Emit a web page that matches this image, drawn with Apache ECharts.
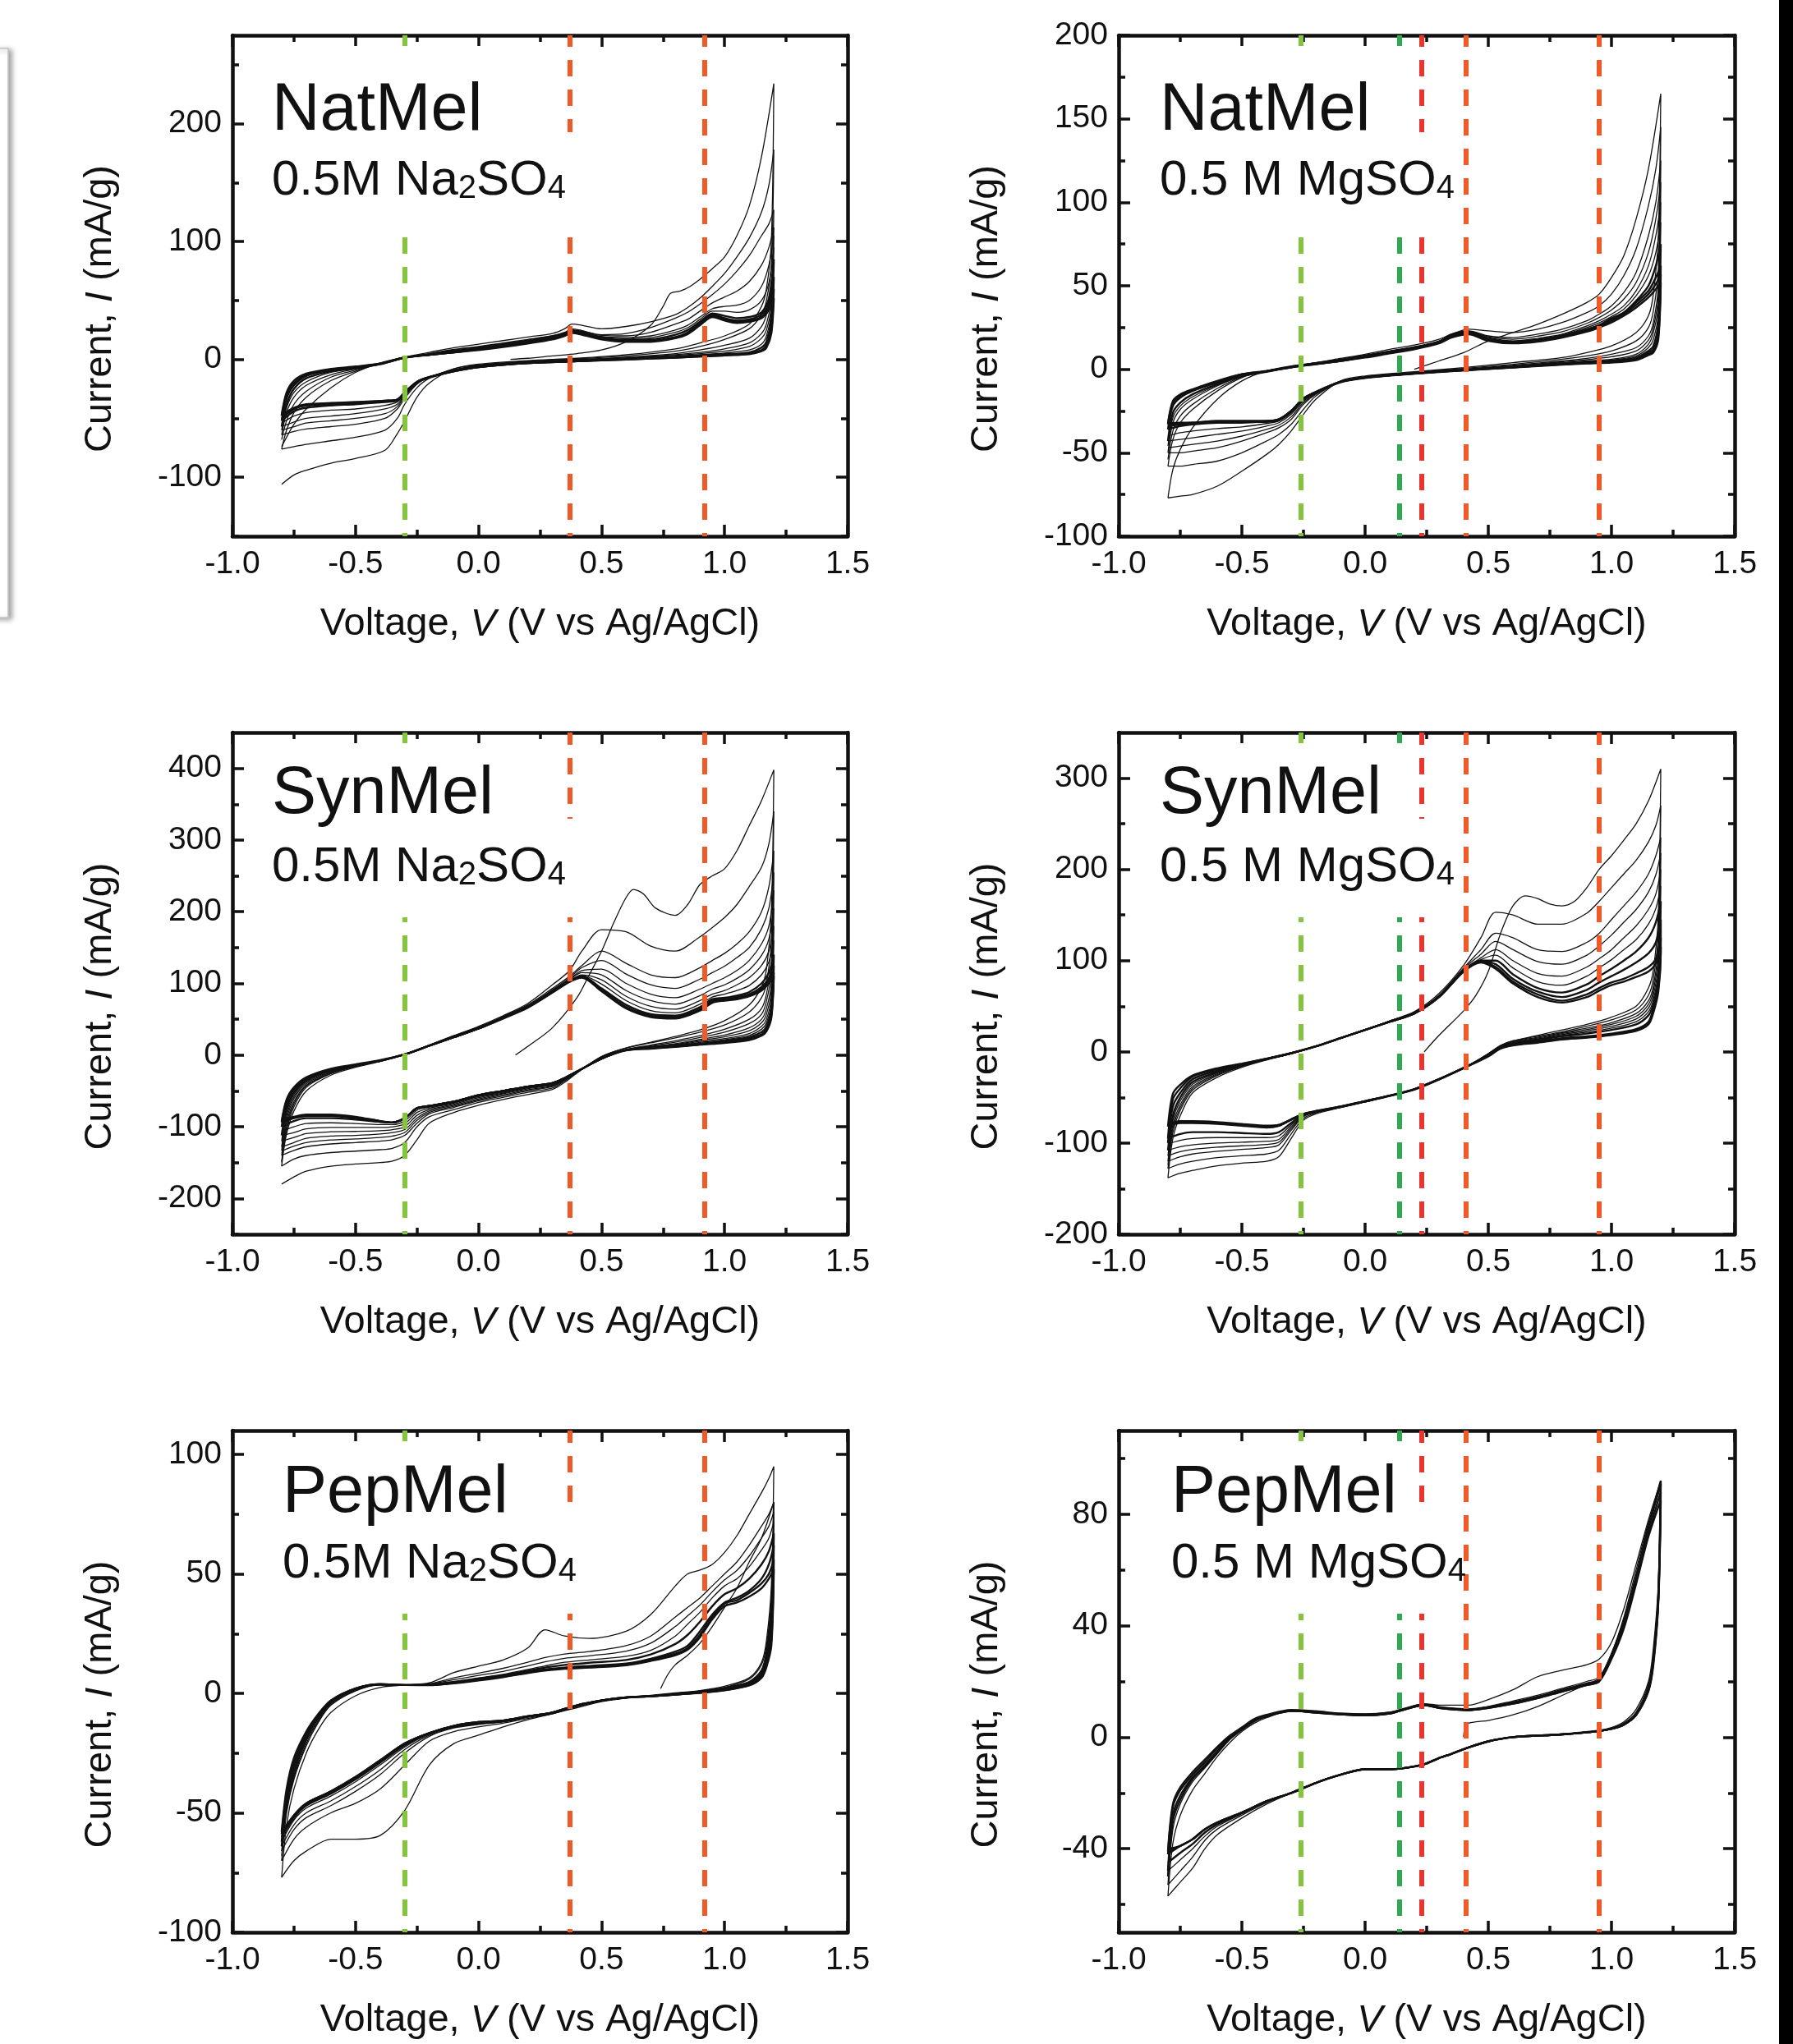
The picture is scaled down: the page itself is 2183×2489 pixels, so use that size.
<!DOCTYPE html>
<html><head><meta charset="utf-8">
<script src="https://cdn.jsdelivr.net/npm/echarts@6/dist/echarts.min.js"></script>
<style>html,body{margin:0;padding:0;background:#fff}#c{width:2183px;height:2489px}</style>
</head><body><div id="c"></div>
<script>
// ---------- shared axis values ----------
const xMajor = [-1, -0.5, 0, 0.5, 1, 1.5];
const xMinor = [-0.75, -0.25, 0.25, 0.75, 1.25];

// ---------- Panel 1 : NatMel, 0.5M Na2SO4 ----------
const natNa_yRange = [-150, 275];
const natNa_yMajor = [-100, 0, 100, 200];
const natNa_yMinor = [-150, -50, 50, 150, 250];
const natNa_refV = [-0.30, 0.37, 0.915];
const natNa_initV = [0.13, 0.2, 0.3, 0.4, 0.5, 0.6, 0.7, 0.75, 0.78, 0.82, 0.86, 0.9, 0.95, 1.0, 1.05, 1.1, 1.15, 1.2];
const natNa_initI = [0, 1, 3, 5, 8, 15, 29, 45, 56, 58, 62, 68, 77, 87, 105, 130, 172, 234];
const natNa_anV = [-0.8, -0.78, -0.75, -0.7, -0.6, -0.5, -0.4, -0.3, -0.2, -0.1, 0, 0.1, 0.2, 0.3, 0.35, 0.38, 0.42, 0.5, 0.6, 0.7, 0.8, 0.85, 0.9, 0.95, 1.0, 1.05, 1.1, 1.15, 1.18, 1.2];
const natNa_caV = [1.2, 1.19, 1.17, 1.15, 1.1, 1.0, 0.9, 0.8, 0.6, 0.4, 0.2, 0, -0.1, -0.2, -0.25, -0.3, -0.33, -0.38, -0.5, -0.6, -0.7, -0.75, -0.8];
const natNa_an = [
  [-74, -66, -55, -42, -24, -11, -3, 2, 6, 10, 13, 16, 19, 22, 26, 30, 29, 26, 28, 32, 38, 44, 52, 62, 73, 87, 103, 125, 148, 178],
  [-76, -60, -45, -32, -18, -10, -3.5, 1.5, 5, 8.5, 11, 14, 17, 20, 22.5, 25, 24, 21, 22, 27, 35, 40, 47, 55, 64, 75, 88, 105, 115, 127],
  [-68, -52, -38, -27, -15, -9, -3.5, 1.5, 4.5, 8, 10.5, 13.5, 16.5, 20, 23, 26, 24.5, 20.5, 20, 23, 30, 34, 41, 48, 53, 58, 66, 80, 95, 112],
  [-64, -45, -32, -22, -13, -8, -3.5, 1.5, 4.5, 7.5, 10, 13, 16, 19.5, 22.5, 25, 23.5, 19.5, 18.5, 20, 25, 29, 36, 43, 45, 46, 50, 62, 80, 105],
  [-60, -41, -28, -19, -11, -7.5, -4, 1.5, 4, 7, 9.5, 12.5, 15.5, 19, 22, 24.5, 23, 19, 17.5, 18.5, 23, 27, 34, 41, 41, 40, 42, 50, 65, 95],
  [-57, -38, -25, -16, -10, -7.5, -4, 1.5, 4, 6.5, 9, 12, 15, 18.5, 21.5, 24, 22.5, 18.5, 16.5, 17, 21, 25, 32, 39, 37, 35, 36, 40, 52, 85],
  [-52, -33, -22, -14, -9, -7, -4, 1.5, 4, 6, 8.5, 11, 14, 18, 21, 23.5, 22, 18, 16, 16, 19, 23, 31, 38, 35, 33, 34, 38, 48, 70],
  [-48, -30, -20, -13, -8.5, -6.5, -3.5, 1.5, 4, 6, 8.5, 11, 14, 17.5, 20.5, 23, 21.5, 17.5, 15.5, 15.5, 18.5, 22, 30, 37, 34, 32, 33, 36, 45, 60],
  [-47, -28, -18, -12, -8, -6, -3.5, 1.5, 4, 6, 8, 10.5, 13.5, 17, 20, 22.5, 21, 17, 15, 15, 18, 21.5, 29, 36, 33, 31, 32, 35, 42, 52]
];
const natNa_ca = [
  [234, 100, 60, 45, 30, 20, 14, 9, 4, 1, -1, -4, -8, -20, -32, -52, -63, -77, -84, -88, -94, -98, -106],
  [178, 80, 50, 38, 26, 17, 11, 7, 3, 0.5, -1.5, -4.5, -8, -16, -24, -38, -50, -60, -66, -69, -72, -74, -76],
  [127, 60, 38, 28, 18, 12, 8, 5, 2, 0, -2, -5, -9, -15, -21, -33, -42, -50, -55, -57, -59, -61, -64],
  [112, 52, 30, 22, 14, 9, 6, 4, 1.5, -0.5, -2.2, -5.2, -9, -15, -20.5, -31, -40, -46, -50, -52, -54, -57, -60],
  [105, 45, 25, 18, 11, 7, 5, 3.5, 1, -1, -2.5, -5.5, -9, -15, -20, -30, -38, -42, -46, -48, -50, -53, -57],
  [95, 40, 20, 13, 8, 5.5, 4, 2.8, 0.8, -1.2, -2.8, -5.8, -9.3, -15, -19.5, -29, -36, -39, -42, -43, -45, -48, -54],
  [85, 35, 15, 10, 6, 4.5, 3.5, 2, 0.5, -1.5, -3, -6, -9.5, -15, -19, -28, -34, -36, -38, -39, -41, -44, -52],
  [70, 28, 12, 8, 5, 4, 3, 2, 0.5, -1.5, -3, -6.5, -10, -15, -19, -28, -34, -35, -36.5, -37.5, -39, -42, -48],
  [60, 25, 11, 7.5, 5, 3.5, 2.5, 1.5, 0, -1.5, -3, -6.5, -10, -15, -19, -28, -34, -35, -36, -37, -38, -41, -47],
  [52, 22, 10, 7, 4.5, 3.5, 2.5, 1.5, 0, -1.5, -3, -6.5, -10, -15.5, -19.5, -29, -35, -36, -37, -38, -39, -42, -50]
];

// ---------- Panel 2 : NatMel, 0.5 M MgSO4 ----------
const natMg_yRange = [-100, 200];
const natMg_yMajor = [-100, -50, 0, 50, 100, 150, 200];
const natMg_yMinor = [-75, -25, 25, 75, 125, 175];
const natMg_refV = [-0.26, 0.145, 0.232, 0.415, 0.955];
const natMg_initV = [0.2, 0.3, 0.4, 0.5, 0.6, 0.7, 0.8, 0.9, 0.95, 1.0, 1.05, 1.1, 1.15, 1.2];
const natMg_initI = [0, 5, 10, 17, 22, 27, 33, 40, 45, 55, 68, 90, 120, 165];
const natMg_anV = [-0.8, -0.78, -0.75, -0.7, -0.6, -0.5, -0.4, -0.3, -0.2, -0.1, 0, 0.1, 0.2, 0.3, 0.35, 0.42, 0.5, 0.6, 0.7, 0.8, 0.9, 0.95, 1.0, 1.05, 1.1, 1.15, 1.18, 1.2];
const natMg_caV = [1.2, 1.19, 1.17, 1.15, 1.1, 1.0, 0.9, 0.8, 0.6, 0.4, 0.2, 0, -0.1, -0.2, -0.25, -0.3, -0.35, -0.4, -0.5, -0.6, -0.7, -0.75, -0.8];
const natMg_an = [
  [-77, -60, -48, -35, -18, -7, -1, 2, 4, 6.5, 9, 12, 14.5, 18, 21, 24, 23, 22, 24, 28, 34, 38, 45, 56, 72, 98, 120, 145],
  [-58, -42, -32, -24, -13, -5, -1, 1.5, 4, 6, 8.5, 11, 13.5, 17, 21, 23, 20, 19, 21, 24, 29, 33, 38, 46, 58, 80, 100, 125],
  [-54, -37, -28, -21, -11.5, -4.5, -1, 1.5, 3.8, 5.8, 8.2, 10.8, 13.2, 16.8, 20.8, 22.8, 19.5, 18, 19.8, 22.5, 27.5, 31, 35.5, 42, 52, 70, 90, 112],
  [-50, -32, -24, -18, -10, -4, -1, 1.5, 3.5, 5.5, 8, 10.5, 13, 16.5, 20.5, 22.5, 19, 17, 18.5, 21, 26, 29, 33, 38, 47, 62, 80, 100],
  [-46, -29, -22, -16.5, -9.5, -4, -1.2, 1.5, 3.5, 5.5, 8, 10.5, 13, 16.5, 20.5, 22.2, 18.5, 16.8, 18, 20.5, 25, 27.8, 31.5, 36, 44, 56, 70, 88],
  [-43, -26, -20, -15, -9, -4, -1.5, 1.5, 3.5, 5.5, 8, 10.5, 13, 16.5, 20.5, 22, 18, 16.5, 17.5, 20, 24, 26.5, 30.5, 34, 41, 50, 62, 75],
  [-36, -22, -17, -13, -8, -3.5, -1.2, 1.2, 3.2, 5, 7.5, 10, 12.5, 16, 20, 21.7, 17.5, 16, 17.5, 20, 23.7, 26, 30, 33.7, 40, 47, 55, 62],
  [-33, -20, -16, -12.5, -7.5, -3, -1.2, 1.2, 3.2, 5, 7.5, 10, 12.5, 16, 19.5, 21.5, 17.5, 16, 17, 19.5, 23, 25.5, 29, 33, 38.5, 45, 51, 57],
  [-32.5, -19, -15, -12, -7, -3, -1, 1.2, 3, 5, 7, 9.5, 12, 15.5, 19, 21, 17, 15.5, 16.5, 19, 22.5, 25, 28, 32, 37, 43, 48, 52]
];
const natMg_ca = [
  [165, 80, 45, 32, 22, 14, 10, 7, 4, 1, -1.5, -4, -7, -18, -27, -37, -45, -51, -61, -70, -75, -76, -77],
  [145, 60, 35, 25, 17, 11, 8, 6, 3, 0.5, -2, -4.5, -7.5, -16, -24, -33, -39, -43, -50, -55, -57, -58, -58],
  [125, 50, 28, 20, 13, 9, 6.5, 5, 2.5, 0, -2, -4.5, -7.5, -15, -21, -30, -35, -38, -43, -47, -49, -50, -50],
  [112, 44, 25, 17.5, 11, 7.5, 5.8, 4.5, 2, -0.2, -2.2, -4.8, -7.5, -14.5, -20, -28.5, -33.5, -36, -40, -43, -45, -46, -47],
  [100, 38, 22, 15, 9, 6, 5, 4, 1.5, -0.5, -2.5, -5, -7.5, -14, -19, -27, -32, -34, -37, -39, -41, -42, -43],
  [88, 33, 18, 13, 8, 5.5, 4.5, 3.8, 1.5, -0.5, -2.5, -5, -7.5, -13.8, -18, -26, -31, -32.5, -34.5, -35.5, -37, -38, -40],
  [75, 28, 14, 11, 7, 5, 4, 3.5, 1.5, -0.5, -2.5, -5, -7.5, -13.5, -17.5, -25, -30, -31, -32, -32, -33, -34, -36],
  [62, 22, 12, 10, 6, 4.5, 3.7, 3, 1.2, -0.5, -2.5, -5, -7.5, -13.7, -17.5, -25, -30, -31, -31, -31, -32, -32.5, -33],
  [57, 20, 11, 9, 6, 4.5, 3.7, 3, 1.2, -0.5, -2.5, -5, -7.5, -13.7, -17.5, -25, -30, -31, -31, -31, -32, -32, -32.5],
  [52, 18, 10, 8.5, 5.5, 4, 3.5, 2.8, 1, -0.7, -2.7, -5.2, -7.8, -14, -18, -25.5, -30.5, -31.5, -31.5, -31.5, -32.5, -33, -34]
];

// ---------- Panel 3 : SynMel, 0.5M Na2SO4 ----------
const synNa_yRange = [-250, 450];
const synNa_yMajor = [-200, -100, 0, 100, 200, 300, 400];
const synNa_yMinor = [-250, -150, -50, 50, 150, 250, 350];
const synNa_refV = [-0.30, 0.37, 0.915];
const synNa_initV = [0.15, 0.2, 0.3, 0.4, 0.45, 0.5, 0.55, 0.6, 0.63, 0.67, 0.72, 0.8, 0.85, 0.9, 0.95, 1.0, 1.05, 1.1, 1.15, 1.2];
const synNa_initI = [0, 12, 38, 80, 112, 145, 185, 220, 231, 225, 205, 195, 210, 238, 250, 260, 285, 320, 355, 398];
const synNa_anV = [-0.8, -0.78, -0.75, -0.7, -0.6, -0.5, -0.4, -0.3, -0.2, -0.1, 0, 0.1, 0.2, 0.3, 0.37, 0.42, 0.5, 0.6, 0.7, 0.8, 0.9, 0.95, 1.0, 1.05, 1.1, 1.15, 1.18, 1.2];
const synNa_caV = [1.2, 1.19, 1.17, 1.15, 1.1, 1.0, 0.9, 0.8, 0.7, 0.6, 0.5, 0.4, 0.35, 0.3, 0.2, 0.1, 0, -0.1, -0.2, -0.25, -0.3, -0.35, -0.4, -0.5, -0.6, -0.7, -0.75, -0.8];
const synNa_an = [
  [-150, -110, -78, -50, -28, -17, -9, 1, 14, 27, 40, 55, 72, 98, 118, 145, 175, 172, 152, 145, 165, 178, 192, 210, 235, 262, 295, 340],
  [-155, -105, -72, -45, -26, -16, -8, 1, 14, 27, 39, 54, 70, 93, 110, 125, 145, 128, 112, 108, 122, 132, 142, 155, 172, 200, 235, 285],
  [-148, -100, -68, -43, -25.5, -15.5, -8, 1, 13.5, 26.5, 38.5, 53, 69, 91, 108, 122, 132, 113, 98, 93, 106, 115, 124, 136, 150, 176, 205, 255],
  [-140, -95, -65, -42, -25, -15, -8, 1, 13, 26, 38, 52, 68, 90, 106, 118, 120, 100, 85, 80, 92, 100, 108, 118, 132, 155, 180, 230],
  [-133, -90, -61, -40, -24, -14.5, -8, 1, 13, 25.5, 37.5, 52, 67.5, 89.5, 105, 115, 112, 90, 76, 71, 83, 92, 98, 107, 119, 139, 162, 205],
  [-128, -85, -58, -38, -23, -14, -8, 1, 13, 25.5, 37.5, 52, 67, 89, 104, 112, 105, 82, 68, 64, 76, 85, 90, 98, 108, 125, 145, 180],
  [-120, -80, -55, -36.5, -22, -14, -8, 1, 13, 25, 37, 52, 67, 88.5, 103.5, 111, 99, 76, 62, 59, 71, 81, 85, 90, 97, 112, 130, 160],
  [-112, -75, -52, -35, -21, -14, -8, 1, 13, 25, 37, 52, 67, 88, 103, 110, 93, 70, 57, 55, 67, 78, 80, 83, 88, 100, 115, 140],
  [-100, -68, -48, -33, -20, -14, -8, 1, 13, 25, 37, 52, 67, 88, 103, 109, 91, 67, 55, 53, 64, 76, 79, 81, 85, 95, 108, 125],
  [-94, -65, -47, -32, -20, -14, -8, 1, 13, 25, 37, 52, 67, 88, 103, 109, 90, 66, 54, 52, 63, 75, 77, 79, 83, 92, 104, 115],
  [-92, -62, -45, -31, -19, -13, -7, 1, 13, 25, 37, 51, 66, 87, 102, 108, 89, 65, 53, 51, 62, 73, 76, 78, 82, 90, 100, 110]
];
const synNa_ca = [
  [398, 200, 120, 95, 70, 48, 35, 26, 18, 10, -2, -25, -38, -48, -55, -62, -70, -80, -95, -118, -140, -148, -150, -152, -155, -162, -170, -180],
  [340, 160, 100, 80, 60, 42, 32, 24, 17, 10, -2, -24, -36, -46, -52, -59, -66, -76, -86, -100, -122, -130, -132, -134, -136, -140, -145, -155],
  [285, 130, 85, 65, 50, 36, 27, 20, 14, 8, -3, -24, -35, -44, -50, -57, -64, -73, -82, -95, -112, -118, -120, -122, -124, -128, -133, -140],
  [255, 115, 75, 57, 44, 32, 24.5, 18, 13, 7.5, -3.5, -24, -34.5, -43, -48.5, -55.5, -62.5, -71.5, -80, -91, -108, -113, -115, -117, -118.5, -122, -127, -134],
  [230, 100, 65, 50, 38, 28, 22, 16, 12, 7, -4, -24, -34, -42, -47, -54, -61, -70, -78, -88, -104, -108, -110, -112, -113, -116, -122, -128],
  [205, 90, 57, 45, 34, 25.5, 20.5, 15, 11.5, 7, -4.5, -23.5, -33.5, -41, -46, -53, -59.5, -68.5, -76, -84, -100, -104, -105.5, -106.5, -107, -109.5, -115, -120],
  [180, 80, 50, 40, 30, 23, 19, 14, 11, 7, -5, -23, -33, -40, -45, -52, -58, -67, -74, -80, -96, -100, -101, -101, -101, -103, -108, -112],
  [160, 72, 45, 36, 27.5, 21.5, 17.5, 13.5, 10.5, 7, -5, -23, -32.5, -39.5, -44.5, -51, -57, -66, -72.5, -77, -92, -97, -97, -95.5, -94.5, -95.5, -100, -106],
  [140, 65, 40, 32, 25, 20, 16, 13, 10, 7, -5, -23, -32, -39, -44, -50, -56, -65, -71, -74, -88, -94, -93, -90, -88, -88, -92, -100],
  [125, 58, 36, 29, 23, 18, 15, 12, 10, 7, -5, -23, -32, -39, -44, -50, -56, -65, -71, -74, -88, -94, -93, -88, -85, -85, -88, -94],
  [115, 55, 34, 28, 22, 17.5, 15, 12, 9.5, 7, -5, -23, -32, -39, -44, -50, -56, -65, -71, -74, -88, -94, -92, -87, -84, -84, -87, -92],
  [110, 52, 33, 27, 21, 17, 14.5, 11.5, 9, 6.5, -5, -23, -32, -39, -44, -50, -56, -65, -71, -74, -88, -94, -92, -86, -83, -83, -86, -90]
];

// ---------- Panel 4 : SynMel, 0.5 M MgSO4 ----------
const synMg_yRange = [-200, 350];
const synMg_yMajor = [-200, -100, 0, 100, 200, 300];
const synMg_yMinor = [-150, -50, 50, 150, 250];
const synMg_refV = [-0.26, 0.145, 0.232, 0.415, 0.955];
const synMg_initV = [0.24, 0.3, 0.4, 0.45, 0.5, 0.55, 0.6, 0.65, 0.7, 0.75, 0.8, 0.85, 0.9, 0.95, 1.0, 1.05, 1.1, 1.15, 1.2];
const synMg_initI = [0, 18, 45, 62, 88, 130, 160, 171, 168, 162, 160, 165, 180, 200, 215, 232, 250, 275, 310];
const synMg_anV = [-0.8, -0.78, -0.75, -0.7, -0.6, -0.5, -0.4, -0.3, -0.2, -0.1, 0, 0.1, 0.2, 0.3, 0.4, 0.47, 0.53, 0.6, 0.7, 0.8, 0.9, 0.95, 1.0, 1.05, 1.1, 1.15, 1.18, 1.2];
const synMg_caV = [1.2, 1.19, 1.17, 1.15, 1.1, 1.0, 0.9, 0.8, 0.7, 0.6, 0.55, 0.5, 0.42, 0.3, 0.2, 0.1, 0, -0.1, -0.2, -0.25, -0.3, -0.35, -0.4, -0.5, -0.6, -0.7, -0.75, -0.8];
const synMg_an = [
  [-138, -95, -70, -45, -28, -17, -9, -2, 6, 15, 24, 34, 44, 64, 95, 125, 153, 150, 140, 140, 152, 165, 180, 195, 210, 230, 248, 270],
  [-128, -88, -64, -42, -26, -16, -8.5, -2, 6, 15, 24, 34, 43, 62, 92, 112, 130, 125, 112, 110, 120, 130, 145, 160, 175, 195, 215, 235],
  [-124, -84, -61, -40, -25, -15.5, -8, -1.8, 6, 15, 24, 33.8, 43, 61.5, 91, 107, 121, 112, 99, 96, 106, 116, 128, 142, 156, 175, 194, 218],
  [-120, -80, -58, -38, -24, -15, -8, -1.5, 6, 15, 24, 33.5, 43, 61, 90, 103, 112, 100, 86, 83, 93, 102, 112, 125, 138, 156, 173, 200],
  [-114, -75, -54, -35.5, -23, -14.5, -8, -1.5, 6, 15, 24, 33.2, 42.8, 60.8, 89.5, 101, 106, 92, 77, 73, 83, 92, 101, 112, 123, 140, 157, 182],
  [-108, -70, -50, -33, -22, -14, -8, -1.5, 6, 15, 24, 33, 42.5, 60.5, 89, 100, 100, 85, 70, 65, 74, 83, 91, 100, 110, 125, 142, 165],
  [-100, -60, -45, -30, -20.5, -13.8, -7.8, -1.5, 6, 15, 24, 33, 42.2, 60.2, 88.5, 99, 96, 80, 66, 60, 68, 76, 83, 90, 98, 108, 120, 145],
  [-95, -52, -40, -27, -19, -13.5, -7.5, -1.5, 6, 15, 24, 33, 42, 60, 88, 98.5, 93, 77, 63, 56, 63, 70, 76, 80, 86, 93, 102, 125],
  [-82, -46, -36, -26, -18, -13, -7.5, -1.5, 6, 15, 24, 33, 42, 60, 88, 98, 91, 75, 60, 54, 60, 67, 73, 77, 82, 88, 97, 115],
  [-79, -43, -34, -25, -17.5, -12.5, -7, -1, 6.5, 15.5, 24.5, 33.5, 42.5, 60.5, 88.5, 98.5, 90, 73, 58, 52, 58, 65, 71, 75, 80, 86, 94, 108]
];
const synMg_ca = [
  [310, 150, 90, 70, 50, 38, 30, 24, 18, 12, 7, -2, -15, -30, -41, -48, -55, -61, -68, -75, -95, -115, -120, -122, -125, -130, -133, -138],
  [270, 130, 80, 62, 46, 35, 28, 22, 17, 12, 7, -2, -15, -30, -41, -48, -55, -60, -67, -73, -90, -108, -112, -114, -116, -120, -123, -128],
  [235, 115, 72, 56, 42, 32, 26, 21, 16, 11, 6.5, -2.5, -15, -30, -41, -48, -55, -60, -66, -71, -86, -102, -105, -107, -109, -112, -115, -120],
  [218, 105, 67, 52, 39, 30, 24.5, 20, 15, 10.5, 6.2, -2.8, -15, -30, -41, -48, -54.5, -60, -66, -70.5, -84, -99, -101.5, -103, -104.5, -107, -109.5, -114],
  [200, 95, 62, 48, 36, 28, 23, 19, 14, 10, 6, -3, -15, -30, -41, -48, -54, -60, -66, -70, -82, -96, -98, -99, -100, -102, -104, -108],
  [182, 88, 57, 44, 33, 26, 21.5, 18, 13.5, 9.5, 5.5, -3.2, -15, -30, -41, -48, -54, -60.2, -65.8, -69.5, -80, -92, -94, -94, -94, -95, -97, -101],
  [165, 80, 52, 40, 30, 24, 20, 17, 13, 9, 5, -3.5, -15, -30, -41, -48, -54, -60.5, -65.5, -69, -78, -88, -90, -89, -88, -88, -90, -95],
  [125, 75, 48, 33, 25, 20, 17, 15, 11.5, 8, 4.5, -4, -15, -30, -41, -48, -54, -60, -65, -68, -74, -81, -83, -81, -79, -78, -78, -82],
  [115, 70, 45, 31, 24, 19, 16, 14, 10.5, 7.5, 4, -4.5, -15, -30, -41, -48, -54, -60, -65, -68, -74, -80, -81, -79, -77, -76, -76, -79],
  [108, 66, 43, 30, 23, 18.5, 15.5, 13.5, 10, 7, 3.5, -5, -15.5, -30.5, -41.5, -48.5, -54.5, -60.5, -65.5, -68.5, -74.5, -81, -82, -80, -78, -77, -77, -80]
];

// ---------- Panel 5 : PepMel, 0.5M Na2SO4 ----------
const pepNa_yRange = [-100, 110];
const pepNa_yMajor = [-100, -50, 0, 50, 100];
const pepNa_yMinor = [-75, -25, 25, 75];
const pepNa_refV = [-0.30, 0.37, 0.915];
const pepNa_initV = [0.74, 0.77, 0.8, 0.85, 0.9, 0.95, 1.0, 1.05, 1.1, 1.15, 1.2];
const pepNa_initI = [2, 8, 12, 16, 21, 28, 36, 44, 55, 65, 80];
const pepNa_anV = [-0.8, -0.78, -0.75, -0.7, -0.65, -0.6, -0.5, -0.4, -0.3, -0.2, -0.1, 0, 0.1, 0.2, 0.27, 0.35, 0.45, 0.6, 0.7, 0.8, 0.85, 0.9, 0.95, 1.0, 1.05, 1.1, 1.15, 1.18, 1.2];
const pepNa_caV = [1.2, 1.19, 1.17, 1.15, 1.1, 1.0, 0.9, 0.8, 0.7, 0.6, 0.5, 0.4, 0.3, 0.2, 0.1, 0, -0.1, -0.2, -0.3, -0.4, -0.5, -0.6, -0.7, -0.75, -0.8];
const pepNa_an = [
  [-77, -55, -40, -25, -15, -8, -1, 2.5, 3.5, 4.4, 8.7, 11.4, 14, 19, 26.6, 24, 23, 26, 33, 45, 50, 51.6, 54, 59, 66, 75, 84, 90, 95],
  [-70, -50, -36, -22, -12, -5, 1, 3.5, 3.5, 4, 6.5, 8.5, 10.5, 13, 15, 16.5, 17.5, 20, 24, 32, 36, 40, 45, 50, 55, 62, 70, 75, 80],
  [-68, -49, -35, -21, -11.5, -4.5, 1.2, 3.7, 3.5, 3.9, 5.7, 7.5, 9.2, 11.5, 13.2, 14.7, 15.7, 17.7, 21, 28, 32.5, 37, 42.5, 47.5, 51.5, 57.5, 65, 70, 76],
  [-66, -48, -34, -20, -11, -4, 1.5, 3.8, 3.5, 3.8, 5, 6.5, 8, 10, 11.5, 13, 14, 15.5, 18, 24, 29, 34, 40, 45, 48, 53, 60, 65, 72],
  [-64, -46, -32.5, -19, -10, -3.8, 1.8, 3.8, 3.5, 3.6, 4.7, 6.1, 7.6, 9.5, 10.8, 11.9, 12.8, 14, 16.3, 20.7, 24.5, 30, 36.5, 41.5, 44, 48, 54, 59.5, 67],
  [-62, -45, -31, -18, -9.5, -3.5, 2, 3.8, 3.5, 3.5, 4.4, 5.8, 7.2, 9, 10, 10.8, 11.5, 12.5, 14.5, 17.5, 20, 26, 33, 38, 40, 43, 48, 54, 62],
  [-59, -42, -29, -17, -9, -3, 2, 3.8, 3.5, 3.5, 4.4, 5.6, 7, 8.7, 9.8, 10.5, 11, 12, 14, 16.6, 19, 24.5, 32, 37.6, 39, 42, 46, 50, 56],
  [-58, -40, -27, -16, -8.5, -3, 2, 3.8, 3.5, 3.4, 4.2, 5.4, 6.8, 8.5, 9.5, 10.3, 10.8, 11.8, 13.6, 16, 18.3, 23.5, 31, 36.5, 38, 40.5, 44, 48, 52]
];
const pepNa_ca = [
  [80, 40, 20, 12, 6, 2.5, 1, 0, -1, -2, -3.5, -6, -8.5, -11, -14, -17.5, -21, -30, -49, -59.5, -61, -61, -66, -70, -77],
  [95, 45, 22, 13, 6.5, 3, 1.2, 0.2, -0.8, -1.8, -3.2, -5.5, -8.5, -10.5, -12.5, -14, -16, -20, -30, -40, -46, -50, -56, -61, -70],
  [80, 38, 18, 10, 5, 2.5, 1, 0, -1, -1.8, -3.2, -5.5, -8.5, -10, -12, -13, -14.5, -18, -25, -34, -41, -47, -52, -57, -66],
  [76, 35, 17, 9.5, 4.8, 2.2, 0.8, -0.2, -1, -1.7, -3.1, -5.3, -8.2, -9.9, -11.8, -12.8, -14.2, -17.5, -23.5, -32, -39, -45, -50, -55, -64],
  [72, 32, 16, 9, 4.5, 2, 0.7, -0.3, -1.1, -1.7, -3, -5.2, -8, -9.8, -11.6, -12.5, -14, -17, -22.5, -30, -37, -43, -48, -53, -62],
  [67, 29, 15, 8.5, 4.2, 1.8, 0.5, -0.4, -1.2, -1.7, -3, -5.1, -8, -9.7, -11.5, -12.2, -13.8, -16.8, -21.8, -29, -36, -42, -47, -52, -60],
  [62, 26, 14, 8, 4, 1.6, 0.4, -0.5, -1.2, -1.7, -3, -5, -8, -9.6, -11.4, -12, -13.6, -16.6, -21, -28, -35, -41, -46, -51, -59],
  [56, 22, 12, 7, 3.5, 1.4, 0.3, -0.5, -1.2, -1.7, -3, -5, -8, -9.6, -11.4, -12, -13.6, -16.6, -21, -28, -35, -41, -46, -51, -58],
  [52, 20, 11, 6.5, 3.3, 1.3, 0.2, -0.5, -1.2, -1.7, -3, -5, -8, -9.6, -11.4, -12, -13.6, -16.6, -21, -28.5, -35.5, -41.5, -46.5, -52, -60]
];

// ---------- Panel 6 : PepMel, 0.5 M MgSO4 ----------
const pepMg_yRange = [-70, 110];
const pepMg_yMajor = [-40, 0, 40, 80];
const pepMg_yMinor = [-60, -20, 20, 60, 100];
const pepMg_refV = [-0.26, 0.145, 0.232, 0.415, 0.955];
const pepMg_initV = [0.4, 0.41, 0.45, 0.5, 0.6, 0.7, 0.8, 0.9, 0.95, 1.0, 1.05, 1.1, 1.15, 1.2];
const pepMg_initI = [0, 4.5, 5.5, 6, 8, 11, 15, 19, 21, 30, 43, 60, 77, 90];
const pepMg_anV = [-0.8, -0.78, -0.75, -0.7, -0.65, -0.6, -0.55, -0.5, -0.45, -0.4, -0.3, -0.2, -0.1, 0, 0.1, 0.15, 0.24, 0.3, 0.42, 0.5, 0.6, 0.7, 0.8, 0.9, 0.95, 1.0, 1.05, 1.1, 1.15, 1.2];
const pepMg_caV = [1.2, 1.19, 1.17, 1.15, 1.1, 1.05, 1.0, 0.95, 0.8, 0.6, 0.5, 0.42, 0.35, 0.3, 0.24, 0.15, 0.1, 0, -0.1, -0.2, -0.3, -0.4, -0.5, -0.6, -0.65, -0.7, -0.75, -0.8];
const pepMg_an = [
  [-57, -38, -28, -19, -13, -7, -2, 2, 5, 7, 9.5, 9, 8.5, 8.3, 9, 10, 12, 11.5, 11.5, 13.5, 17, 21.7, 24, 26, 28, 34, 46, 62, 78, 92],
  [-53, -33, -24, -16, -11, -6, -1, 2.5, 5.5, 7.5, 9.5, 8.6, 8.2, 8, 8.6, 9.8, 11.6, 10.8, 10, 11, 13, 15, 17.5, 20, 21.5, 30, 42, 58, 76, 90],
  [-50, -30, -22.5, -15, -10.5, -5.5, -0.5, 2.8, 5.8, 7.5, 9.5, 8.8, 8.2, 7.9, 8.5, 9.7, 11.5, 10.6, 9.8, 10.7, 12.5, 14.5, 17, 19.3, 20.8, 29.5, 41.5, 57.5, 75, 91],
  [-48, -28, -21, -14.5, -10, -5, 0, 3, 6, 7.5, 9.4, 9, 8.2, 7.8, 8.5, 9.7, 11.5, 10.5, 9.7, 10.5, 12, 14, 16.4, 18.7, 20, 29, 41, 57.5, 75.5, 92],
  [-42, -25, -19, -13.5, -9, -4, 0, 3, 6, 7.5, 9.4, 9, 8.2, 7.8, 8.5, 9.7, 11.5, 10.5, 9.7, 10.5, 12, 14, 16.4, 18.7, 20, 28, 39, 55, 72, 85],
  [-41, -24, -18, -12.5, -8, -3.5, 0.5, 3.5, 6.5, 8, 9.8, 9.3, 8.5, 8.2, 8.8, 10, 11.8, 10.8, 10, 10.8, 12.2, 14.2, 16.6, 19, 20.5, 28.5, 40, 56, 73, 88]
];
const pepMg_ca = [
  [90, 55, 32, 20, 10, 5.5, 3.5, 2.5, 1.2, 0, -1.5, -3.7, -6, -7.5, -9.7, -11.2, -11.5, -11.5, -13.5, -16.5, -20, -24, -29, -35, -40, -47, -52, -57],
  [92, 52, 30, 19, 9, 5, 3.2, 2.3, 1.1, 0, -1.5, -3.7, -6, -7.5, -9.7, -11.2, -11.5, -11.5, -13.5, -16.4, -20, -23.5, -28, -33, -37, -43, -48, -53],
  [90, 50, 28, 18, 8.5, 4.8, 3, 2.2, 1, 0, -1.5, -3.7, -6, -7.5, -9.7, -11.2, -11.5, -11.5, -13.5, -16.4, -20, -23, -27.5, -32, -35.5, -40, -44, -48],
  [91, 50, 27.8, 17.5, 8.2, 4.6, 3, 2.2, 1, 0, -1.5, -3.7, -6, -7.5, -9.7, -11.2, -11.5, -11.5, -13.5, -16.4, -20, -23, -27.2, -31.3, -34.2, -38.3, -41.5, -45],
  [92, 50, 27.6, 17, 8, 4.5, 3, 2.2, 1, 0, -1.5, -3.7, -6, -7.5, -9.7, -11.2, -11.5, -11.5, -13.5, -16.4, -20, -23, -27, -30.6, -33, -36.6, -39, -42],
  [85, 48, 26, 16.5, 8, 4.5, 3, 2.2, 1, 0, -1.5, -3.7, -6, -7.5, -9.7, -11.2, -11.5, -11.5, -13.5, -16.4, -20, -23, -27, -30.6, -33, -36.6, -39, -41],
  [88, 49, 27, 16.8, 8, 4.5, 3, 2.2, 1, 0, -1.5, -3.7, -6, -7.5, -9.7, -11.2, -11.5, -11.5, -13.5, -16.4, -20, -23, -27, -30.6, -33, -36.6, -39, -40]
];

// ---------- styles & layout ----------
const FONT = '"Liberation Sans", Arial, Helvetica, sans-serif';
const INK = '#111';
const LG = '#86c440', DG = '#2fa84f', RD = '#e8352f', OR = '#f05a28';
const NA_COLORS = [LG, OR, OR];
const MG_COLORS = [LG, DG, RD, OR, OR];
const SUB_NA = '{a|0.5M Na}{s|2}{a|SO}{s|4}';
const SUB_MG = '{a|0.5 M MgSO}{s|4}';

const panels = [
  {title:'NatMel', sub:SUB_NA, grid:{left:283, top:43, width:749, height:610}, tx:331, tb:164, sb:241, col:0,
   yR:natNa_yRange, yMaj:natNa_yMajor, yMin:natNa_yMinor, refV:natNa_refV, refC:NA_COLORS,
   initV:natNa_initV, initI:natNa_initI, anV:natNa_anV, caV:natNa_caV, an:natNa_an, ca:natNa_ca},
  {title:'NatMel', sub:SUB_MG, grid:{left:1362, top:43, width:750, height:610}, tx:1412, tb:164, sb:241, col:1,
   yR:natMg_yRange, yMaj:natMg_yMajor, yMin:natMg_yMinor, refV:natMg_refV, refC:MG_COLORS,
   initV:natMg_initV, initI:natMg_initI, anV:natMg_anV, caV:natMg_caV, an:natMg_an, ca:natMg_ca},
  {title:'SynMel', sub:SUB_NA, grid:{left:283, top:892, width:749, height:611}, tx:331, tb:996, sb:1077, col:0,
   yR:synNa_yRange, yMaj:synNa_yMajor, yMin:synNa_yMinor, refV:synNa_refV, refC:NA_COLORS,
   initV:synNa_initV, initI:synNa_initI, anV:synNa_anV, caV:synNa_caV, an:synNa_an, ca:synNa_ca},
  {title:'SynMel', sub:SUB_MG, grid:{left:1362, top:892, width:750, height:611}, tx:1412, tb:996, sb:1077, col:1,
   yR:synMg_yRange, yMaj:synMg_yMajor, yMin:synMg_yMinor, refV:synMg_refV, refC:MG_COLORS,
   initV:synMg_initV, initI:synMg_initI, anV:synMg_anV, caV:synMg_caV, an:synMg_an, ca:synMg_ca},
  {title:'PepMel', sub:SUB_NA, grid:{left:283, top:1742, width:749, height:611}, tx:344, tb:1847, sb:1925, col:0,
   yR:pepNa_yRange, yMaj:pepNa_yMajor, yMin:pepNa_yMinor, refV:pepNa_refV, refC:NA_COLORS,
   initV:pepNa_initV, initI:pepNa_initI, anV:pepNa_anV, caV:pepNa_caV, an:pepNa_an, ca:pepNa_ca},
  {title:'PepMel', sub:SUB_MG, grid:{left:1362, top:1742, width:750, height:611}, tx:1426, tb:1847, sb:1925, col:1,
   yR:pepMg_yRange, yMaj:pepMg_yMajor, yMin:pepMg_yMinor, refV:pepMg_refV, refC:MG_COLORS,
   initV:pepMg_initV, initI:pepMg_initI, anV:pepMg_anV, caV:pepMg_caV, an:pepMg_an, ca:pepMg_ca}
];

function zip(vs, is) {
  const n = Math.min(vs.length, is.length), out = [];
  for (let i = 0; i < n; i++) out.push([vs[i], is[i]]);
  return out;
}
function buildCycles(p) {
  const out = [zip(p.initV, p.initI).concat(zip(p.caV, p.ca[0]))];
  for (let k = 1; k < p.ca.length; k++) out.push(zip(p.anV, p.an[k - 1]).concat(zip(p.caV, p.ca[k])));
  return out;
}

const nameStyle = {fontSize:47, fontFamily:FONT, color:INK,
  rich:{i:{fontSize:47, fontFamily:FONT, color:INK, fontStyle:'italic'}}};
const yNameStyle = Object.assign({}, nameStyle, {padding:[0, 56, 0, 0]});
const lineAx = {show:true, onZero:false, lineStyle:{color:INK, width:4.5}};
const noLine = {show:false, onZero:false};
const majTick = vals => ({show:true, inside:true, length:14, customValues:vals, lineStyle:{color:INK, width:3.5}});
const minTick = vals => ({show:true, inside:true, length:8, customValues:vals, lineStyle:{color:INK, width:3.5}});

const grids = [], xAxes = [], yAxes = [], series = [], graphics = [];

panels.forEach((p, gi) => {
  grids.push(Object.assign({containLabel:false}, p.grid));
  const xb = {type:'value', gridIndex:gi, min:-1, max:1.5, splitLine:{show:false}};
  xAxes.push(
    Object.assign({}, xb, {position:'bottom', axisLine:lineAx, axisTick:majTick(xMajor),
      axisLabel:{show:true, customValues:xMajor, formatter:v => Number(v).toFixed(1), fontSize:39, fontFamily:FONT, color:INK, margin:15},
      name:'Voltage, {i|V} (V vs Ag/AgCl)', nameLocation:'middle', nameGap:84, nameTextStyle:nameStyle}),
    Object.assign({}, xb, {position:'bottom', axisLine:noLine, axisTick:minTick(xMinor), axisLabel:{show:false}}),
    Object.assign({}, xb, {position:'top', axisLine:lineAx, axisTick:majTick(xMajor), axisLabel:{show:false}}),
    Object.assign({}, xb, {position:'top', axisLine:noLine, axisTick:minTick(xMinor), axisLabel:{show:false}})
  );
  const yb = {type:'value', gridIndex:gi, min:p.yR[0], max:p.yR[1], splitLine:{show:false}};
  yAxes.push(
    Object.assign({}, yb, {position:'left', axisLine:lineAx, axisTick:majTick(p.yMaj),
      axisLabel:{show:true, customValues:p.yMaj, formatter:v => String(v), fontSize:39, fontFamily:FONT, color:INK, margin:13},
      name:'Current, {i|I} (mA/g)', nameLocation:'middle', nameGap:137, nameTextStyle:yNameStyle}),
    Object.assign({}, yb, {position:'left', axisLine:noLine, axisTick:minTick(p.yMin), axisLabel:{show:false}}),
    Object.assign({}, yb, {position:'right', axisLine:lineAx, axisTick:majTick(p.yMaj), axisLabel:{show:false}}),
    Object.assign({}, yb, {position:'right', axisLine:noLine, axisTick:minTick(p.yMin), axisLabel:{show:false}})
  );
  const cyc = buildCycles(p);
  cyc.forEach((d, k) => series.push({
    type:'line', xAxisIndex:4 * gi, yAxisIndex:4 * gi, data:d, showSymbol:false, symbol:'none',
    smooth:0.3, silent:true, z:2, lineStyle:{color:INK, width:k >= cyc.length - 4 ? 2.4 : 1.3}
  }));
  series.push({
    type:'line', xAxisIndex:4 * gi, yAxisIndex:4 * gi, data:[], silent:true,
    markLine:{silent:true, symbol:['none', 'none'], label:{show:false},
      data:p.refV.map((v, j) => ({xAxis:v, lineStyle:{color:p.refC[j], width:6, type:[20, 16], dashOffset:16}}))}
  });
  // white text boxes (covering the dashed guide lines) + texts
  const tW = p.col === 0 ? 325 : 300, sW = p.col === 0 ? 372 : 350;
  graphics.push(
    {type:'rect', z:50, shape:{x:p.tx - 14, y:p.grid.top + 13, width:tW + 14, height:(p.sb - 80) - (p.grid.top + 13) + 20}, style:{fill:'#fff'}},
    {type:'rect', z:50, shape:{x:p.tx - 14, y:p.sb - 80, width:sW + 14, height:120}, style:{fill:'#fff'}},
    {type:'text', z:60, x:p.tx, y:p.tb - 28, style:{text:p.title, fontSize:81, fontFamily:FONT, fill:INK, verticalAlign:'middle', align:'left'}},
    {type:'text', z:60, x:p.tx, y:p.sb - 21, style:{text:p.sub, fill:INK, verticalAlign:'middle', align:'left',
      rich:{a:{fontSize:60, fontFamily:FONT, fill:INK, verticalAlign:'bottom', lineHeight:60},
            s:{fontSize:40, fontFamily:FONT, fill:INK, verticalAlign:'bottom', lineHeight:40}}}}
  );
});

// page artefacts: shadowed box at the left edge, black bar at right edge
graphics.push(
  {type:'rect', z:1, shape:{x:-20, y:59, width:30, height:693},
   style:{fill:'#fff', stroke:'#c4c4c4', lineWidth:1.5, shadowBlur:6, shadowColor:'rgba(0,0,0,0.35)', shadowOffsetX:4, shadowOffsetY:2}},
  {type:'rect', z:1, shape:{x:2166, y:0, width:17, height:2489}, style:{fill:'#000'}}
);

const chart = echarts.init(document.getElementById('c'), null, {renderer:'canvas', width:2183, height:2489});
chart.setOption({
  backgroundColor:'#fff', animation:false,
  grid:grids, xAxis:xAxes, yAxis:yAxes, series:series, graphic:graphics
});
</script></body></html>
